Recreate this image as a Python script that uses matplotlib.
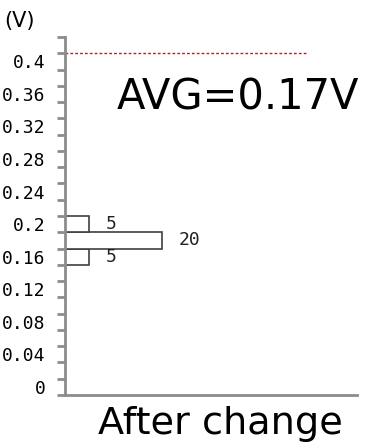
import numpy as np
import matplotlib
matplotlib.use("Agg")
import matplotlib.pyplot as plt

# bins of the histogram (V), 0.02 step, bottom to top
bins = ['0', '0.02', '0.04', '0.06', '0.08', '0.1', '0.12', '0.14', '0.16', '0.18',
        '0.2', '0.22', '0.24', '0.26', '0.28', '0.3', '0.32', '0.34', '0.36', '0.38',
        '0.4', '0.42']
counts = [0, 0, 0, 0, 0, 0, 0, 0, 5, 20, 5, 0, 0, 0, 0, 0, 0, 0, 0, 0, 0, 0]
shown_labels = ['0', '0.04', '0.08', '0.12', '0.16', '0.2', '0.24', '0.28', '0.32', '0.36', '0.4']
limit_bin = '0.4'
avg_text = 'AVG=0.17V'
title = 'After change'

fig = plt.figure(figsize=(3.65, 4.45), dpi=100)
ax = fig.add_axes([0.178, 0.1124, 0.8, 0.8045])

pos = np.arange(len(bins))
vals = np.array(counts)
nz = vals > 0
ax.barh(pos[nz], vals[nz], height=1.0, color='white', edgecolor='#404040', linewidth=1.2)
for p, v in zip(pos[nz], vals[nz]):
    ax.text(v + 3.3, p, str(v), ha='left', va='center', fontsize=13,
            family='DejaVu Sans Mono', color='#222222')

# limit line at top of the 0.4 bin
lim = bins.index(limit_bin) + 0.5
ax.plot([0, 50], [lim, lim], color='red', linestyle=(0, (2, 1.5)), linewidth=1)

ax.set_xlim(0, 60)
ax.set_ylim(-0.5, len(bins) - 0.5)

for s in ['top', 'right']:
    ax.spines[s].set_visible(False)
for s in ['left', 'bottom']:
    ax.spines[s].set_color('#8c8c8c')
    ax.spines[s].set_linewidth(2)

ax.set_xticks([])
ax.set_yticks(np.arange(len(bins) + 1) - 0.5)
ax.set_yticklabels([])
ax.tick_params(axis='y', which='major', length=6, width=2, color='#8c8c8c')
lab_pos = [bins.index(b) for b in shown_labels]
ax.set_yticks(lab_pos, minor=True)
ax.set_yticklabels(shown_labels, minor=True, family='DejaVu Sans Mono', fontsize=13)
ax.tick_params(axis='y', which='minor', length=0, pad=14)

fig.text(0.013, 0.975, '(V)', fontsize=15, va='top', ha='left')
fig.text(0.32, 0.753, avg_text, fontsize=30, va='baseline', ha='left')
fig.text(0.268, 0.025, title, fontsize=27.5, va='baseline', ha='left')

fig.savefig('out.png', dpi=100)
